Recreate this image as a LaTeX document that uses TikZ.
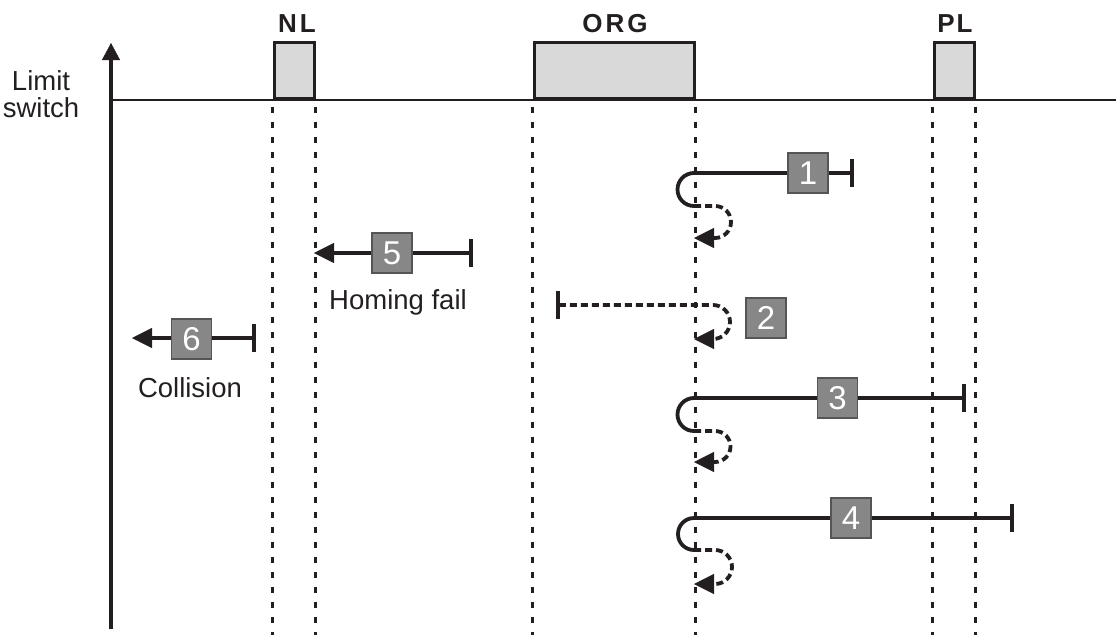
\documentclass[tikz,border=0pt]{standalone}
\usepackage{fontspec}
\setmainfont{Liberation Sans}
\usetikzlibrary{arrows.meta}
\definecolor{ink}{HTML}{231F20}
\definecolor{swfill}{HTML}{D9D9D9}
\definecolor{numfill}{HTML}{878787}
\definecolor{numedge}{HTML}{555555}
\begin{document}
\begin{tikzpicture}[x=1pt,y=-1pt,
  swbox/.style={draw=ink, fill=swfill, line width=3pt, minimum width=40pt, minimum height=56pt, inner sep=0pt, anchor=south},
  swlbl/.style={font=\bfseries\fontsize{26}{26}\selectfont, text=ink},
  txt/.style={font=\fontsize{27.5}{27.5}\selectfont, text=ink, inner sep=0pt},
  numbox/.style={draw=numedge, fill=numfill, line width=1.2pt, minimum size=40pt, inner sep=0pt, text=white, font=\fontsize{33}{33}\selectfont},
  spath/.style={draw=ink, line width=3.8pt},
  dpath/.style={draw=ink, line width=3.8pt, dash pattern=on 7pt off 4pt},
  dotline/.style={draw=ink, line width=3.5pt, dash pattern=on 6pt off 9pt, dash phase=8.5pt},
  endbar/.tip={Bar[width=28pt,line width=3.8pt]},
  head/.tip={Triangle[length=20pt,width=20pt,line width=0.5pt]}
]
\useasboundingbox (0,0) rectangle (1116,635);

% axis and baseline
\coordinate (axb) at (111,629);
\coordinate (axt) at (111,43);
\coordinate (bl0) at (111,100);
\coordinate (bl1) at (1116,100);
\draw[draw=ink, line width=3.5pt, -{Triangle[length=17pt,width=18pt,line width=0.5pt]}] (axb) -- (axt);
\draw[draw=ink, line width=2.5pt] (bl0) -- (bl1);

% switches
\node[swbox] (nl) at (294,100) {};
\node[swbox, minimum width=160pt] (org) at (614,100) {};
\node[swbox] (pl) at (954,100) {};
\node[swlbl] (nlt) at (297,24) {N\kern3pt L};
\node[swlbl] (orgt) at (615,24) {O\kern3pt R\kern3pt G};
\node[swlbl] (plt) at (955,24) {P\kern2pt L};

\node[txt, anchor=base] (lim1) at (41,90) {Limit};
\node[txt, anchor=base] (lim2) at (41,117) {switch};

% dotted lines
\foreach \n in {nl,org,pl}{
  \draw[dotline] (\n.south west) -- ++(0,535);
  \draw[dotline] (\n.south east) -- ++(0,535);
}

% path 1
\coordinate (p1s) at (694,173);
\coordinate (p1e) at (854,173);
\coordinate (p1b) at (694,206);
\coordinate (p1a) at (694,238);
\draw[spath, -endbar] (p1s) -- (p1e);
\draw[spath] (p1s) arc[start angle=270, end angle=90, radius=16.5];
\draw[dpath, -head] (p1b) -- (715,206) arc[start angle=270, end angle=450, radius=16] -- (p1a);
\node[numbox] (n1) at (808,173) {1};

% path 5
\coordinate (p5a) at (314,253);
\coordinate (p5e) at (473,253);
\draw[spath, head-endbar] (p5a) -- (p5e);
\node[numbox] (n5) at (392,253) {5};
\node[txt] (hf) at (398,302) {Homing fail};

% path 2
\coordinate (p2s) at (556,305);
\coordinate (p2a) at (694,339);
\draw[dpath, endbar-head] (p2s) -- (713,305) arc[start angle=270, end angle=450, radius=17] -- (p2a);
\node[numbox] (n2) at (766,318) {2};

% path 6
\coordinate (p6a) at (132,338);
\coordinate (p6e) at (256,338);
\draw[spath, head-endbar] (p6a) -- (p6e);
\node[numbox] (n6) at (191.5,339) {6};
\node[txt] (col) at (190,388) {Collision};

% path 3
\coordinate (p3s) at (694,398);
\coordinate (p3e) at (966,398);
\coordinate (p3b) at (694,431);
\coordinate (p3a) at (694,462);
\draw[spath, -endbar] (p3s) -- (p3e);
\draw[spath] (p3s) arc[start angle=270, end angle=90, radius=16.5];
\draw[dpath, -head] (p3b) -- (715,431) arc[start angle=270, end angle=450, radius=15.5] -- (p3a);
\node[numbox] (n3) at (837.5,398) {3};

% path 4
\coordinate (p4s) at (694,518);
\coordinate (p4e) at (1014,518);
\coordinate (p4b) at (694,550);
\coordinate (p4a) at (694,584);
\draw[spath, -endbar] (p4s) -- (p4e);
\draw[spath] (p4s) arc[start angle=270, end angle=90, radius=16];
\draw[dpath, -head] (p4b) -- (715,550) arc[start angle=270, end angle=450, radius=17] -- (p4a);
\node[numbox] (n4) at (851,518) {4};
\end{tikzpicture}
\end{document}
